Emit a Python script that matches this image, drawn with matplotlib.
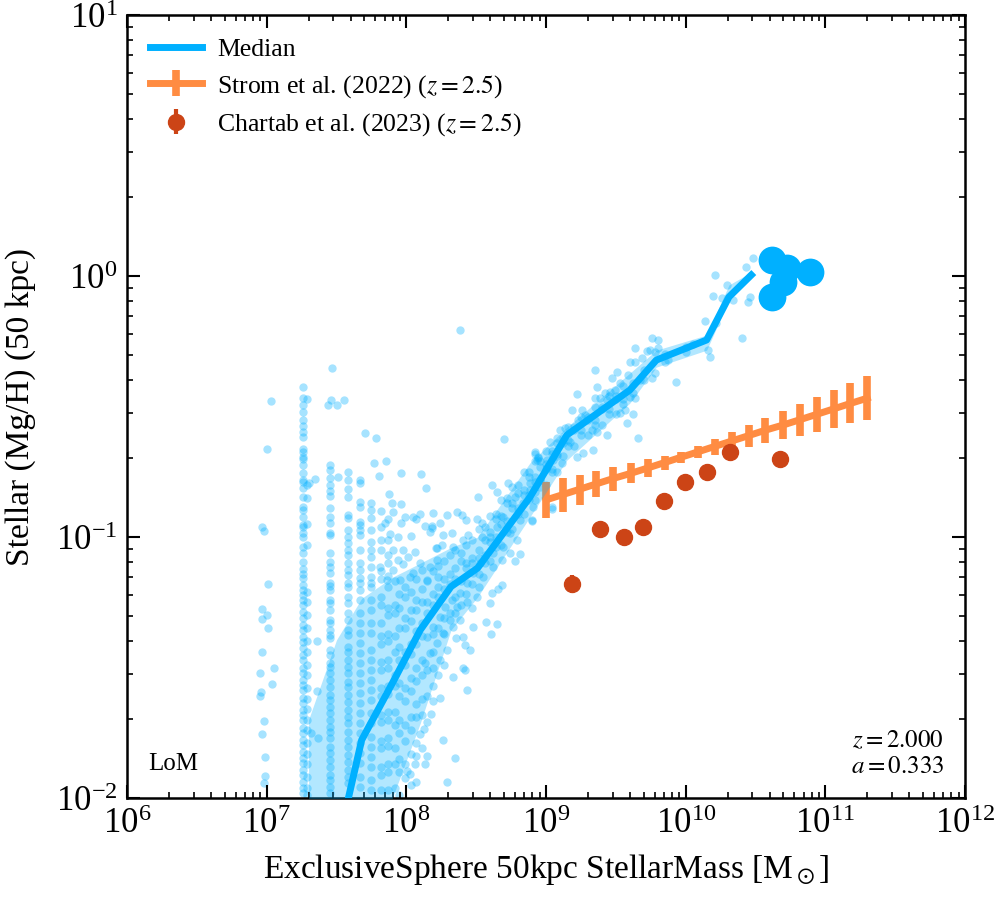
import numpy as np
import matplotlib
matplotlib.use('Agg')
import matplotlib.pyplot as plt

plt.rcParams['font.family'] = 'serif'
plt.rcParams['font.serif'] = ['Liberation Serif', 'STIXGeneral', 'DejaVu Serif']
plt.rcParams['mathtext.fontset'] = 'stix'

BLUE = '#00B0FF'
ORANGE = '#FF8C42'
RED = '#CC4416'

# ---------------- data (log10 values) ----------------
# binned median and 16-84 percentile band
bin_logmass = [7.30, 7.50, 7.68, 7.90, 8.10, 8.32, 8.51, 8.885, 9.15, 9.60, 9.79, 10.15, 10.31, 10.47]
median_logz = [-2.9, -2.2, -1.778, -1.56, -1.356, -1.19, -1.119, -0.847, -0.609, -0.437, -0.322, -0.245, -0.080, 0.004]
p84_logz = [-1.70, -1.394, -1.235, -1.154, -1.10, -1.04, -1.00, -0.716, -0.579, -0.372, -0.284, -0.226, -0.034, 0.015]
p16_logz = [-2.8, -2.5, -2.25, -2.0, -1.713, -1.356, -1.23, -0.923, -0.705, -0.487, -0.349, -0.284, -0.092, -0.004]

# most massive galaxies (shown individually)
massive_logmass = [10.617, 10.724, 10.889, 10.617, 10.696]
massive_logz = [0.061, 0.031, 0.015, -0.080, -0.023]

# Strom et al. (2022)
strom_logmass = [9.00, 9.12, 9.24, 9.36, 9.48, 9.61, 9.73, 9.85, 9.97, 10.09,
                 10.21, 10.33, 10.45, 10.57, 10.70, 10.82, 10.94, 11.06, 11.18, 11.30]
strom_z = [0.1387, 0.1454, 0.1524, 0.1598, 0.1675, 0.1756, 0.184, 0.193, 0.2024, 0.2122,
           0.2226, 0.2333, 0.2446, 0.2566, 0.2689, 0.2818, 0.2954, 0.3098, 0.325, 0.3404]
strom_low = [0.1183, 0.1247, 0.1327, 0.1423, 0.150, 0.161, 0.170, 0.1807, 0.1921, 0.201,
             0.206, 0.2153, 0.2213, 0.229, 0.2374, 0.2438, 0.2523, 0.2616, 0.2735, 0.2807]
strom_high = [0.1626, 0.1683, 0.1727, 0.1791, 0.1854, 0.1921, 0.199, 0.2043, 0.2118, 0.2234,
              0.2374, 0.2523, 0.2685, 0.2857, 0.304, 0.3235, 0.344, 0.3658, 0.389, 0.414]

# Chartab et al. (2023)
chartab_mass = [1.53e9, 2.43e9, 3.61e9, 4.94e9, 6.98e9, 9.87e9, 1.42e10, 2.07e10, 4.72e10]
chartab_z = [0.066, 0.107, 0.100, 0.109, 0.137, 0.163, 0.178, 0.212, 0.199]
chartab_err_lo = [0.005, 0.004, 0.004, 0.004, 0.005, 0.005, 0.005, 0.006, 0.006]
chartab_err_hi = [0.0055, 0.004, 0.004, 0.004, 0.005, 0.005, 0.005, 0.006, 0.006]

# individual galaxies: lowest-mass column (pairs)
col1_logmass = [7.03, 7.00, 6.97, 6.98, 7.01, 6.97, 7.00, 6.97, 7.01, 6.97, 7.05, 6.95, 7.04, 6.96,
                6.95, 6.98, 6.97, 6.99, 6.99, 6.98]
col1_logz = [-0.479, -0.663, -0.962, -0.977, -1.180, -1.276, -1.299, -1.314, -1.349, -1.441, -1.502,
             -1.521, -1.563, -1.594, -1.609, -1.705, -1.755, -1.843, -1.916, -1.943]

# discrete mass columns: (log mass, list of log metallicity)
col2a_logmass = 7.26
col2a_logz = [-0.425, -0.467, -0.494, -0.521, -0.552, -0.575, -0.598, -0.617, -0.663, -0.674, -0.693,
              -0.701, -0.724, -0.755, -0.782, -0.789, -0.812, -0.847, -0.885, -0.897, -0.923, -0.954,
              -0.962, -0.985, -1.0, -1.038, -1.061, -1.096, -1.123, -1.142, -1.157, -1.184, -1.203,
              -1.222, -1.241, -1.261, -1.287, -1.310, -1.337, -1.356, -1.383, -1.402, -1.425, -1.452,
              -1.471, -1.502, -1.521, -1.548, -1.567, -1.586, -1.617, -1.636, -1.663, -1.682, -1.701,
              -1.732, -1.751, -1.778, -1.797, -1.824, -1.847, -1.866, -1.893, -1.912, -1.939, -1.962,
              -1.981]
col2b_logmass = 7.29
col2b_logz = [-0.47, -0.80, -0.85, -0.95, -1.03, -1.21, -1.25, -1.30, -1.35, -1.40, -1.44, -1.49, -1.53,
              -1.58, -1.62, -1.66, -1.70, -1.74, -1.79, -1.83, -1.87, -1.92, -1.96, -1.99]
col3_logmass = 7.45
col3_logz = [-0.724, -0.743, -0.774, -0.801, -0.824, -0.843, -0.889, -0.923, -0.946, -0.985, -0.992,
             -1.061, -1.096, -1.115, -1.138, -1.176, -1.188, -1.203, -1.241, -1.253, -1.280, -1.318,
             -1.330, -1.356, -1.375, -1.387, -1.433, -1.452, -1.483, -1.498, -1.521, -1.548, -1.575,
             -1.605, -1.625, -1.651, -1.674, -1.701, -1.728, -1.747, -1.770, -1.805, -1.828, -1.854,
             -1.881, -1.912, -1.931, -1.958, -1.981]
col4_logmass = 7.58
col4_logz = [-0.751, -0.782, -0.816, -0.847, -0.916, -0.927, -0.973, -1.0, -1.023, -1.050, -1.069,
             -1.100, -1.126, -1.146, -1.176, -1.192, -1.230, -1.253, -1.291, -1.318, -1.356, -1.375,
             -1.421, -1.441, -1.471, -1.498, -1.521, -1.556, -1.575, -1.605, -1.632, -1.663, -1.690,
             -1.713, -1.747, -1.778, -1.805, -1.835, -1.862, -1.893, -1.920, -1.943]
col5_logmass = 7.67
col5_logz = [-0.782, -0.793, -0.866, -0.885, -0.943, -0.954, -0.973, -0.992, -1.050, -1.100, -1.126,
             -1.157, -1.176, -1.203, -1.241, -1.291, -1.330, -1.368, -1.406, -1.444, -1.483, -1.521,
             -1.559, -1.598, -1.636, -1.674, -1.713, -1.751, -1.789, -1.828, -1.866, -1.920, -1.958]
col6_logmass = 7.75
col6_logz = [-0.870, -0.897, -0.927, -0.973, -1.019, -1.050, -1.077, -1.115, -1.153, -1.176, -1.192,
             -1.241, -1.280, -1.330, -1.368, -1.433, -1.471, -1.510, -1.548, -1.586, -1.625, -1.674,
             -1.713, -1.766, -1.805, -1.843, -1.881, -1.931, -1.969]
col7_logmass = 7.82
col7_logz = [-0.90, -0.96, -1.01, -1.05, -1.13, -1.16, -1.23, -1.26, -1.33, -1.38, -1.41, -1.48, -1.51,
             -1.58, -1.61, -1.68, -1.71, -1.78, -1.81, -1.88, -1.91, -1.97]
col8_logmass = 7.87
col8_logz = [-0.93, -1.01, -1.07, -1.15, -1.19, -1.27, -1.30, -1.37, -1.40, -1.47, -1.50, -1.57, -1.60,
             -1.67, -1.70, -1.77, -1.80, -1.87, -1.90, -1.97]

# individually placed galaxies (pairs)
pts_logmass = [7.467, 7.439, 7.46, 7.503, 7.553, 7.346, 7.303, 7.51, 7.36, 7.36, 7.32, 7.37,
               7.704, 7.782, 7.768, 7.854, 7.804, 7.961, 8.104, 8.140, 7.875, 7.897, 7.904, 7.961,
               7.990, 8.047, 8.097, 8.190, 8.240, 8.291, 8.362, 8.398, 8.427, 8.505, 8.541, 8.613,
               8.649, 8.727, 8.699, 8.513, 7.847, 7.961, 8.069, 8.133, 8.183, 7.883, 7.940, 8.033,
               8.169, 8.212, 7.904, 7.976, 8.062, 8.011, 8.097, 7.940, 7.868, 7.811, 7.904, 7.976,
               8.047, 8.112, 8.169, 8.219, 7.861, 7.954, 8.026, 8.147, 8.226, 8.183, 8.262, 8.326,
               8.219, 8.255, 8.334, 8.405, 8.441, 8.541, 8.921, 8.942, 9.042, 8.899, 8.813, 8.777,
               8.684, 8.656, 8.613, 8.598, 8.570, 8.649, 8.606, 8.477, 8.455, 8.419, 8.405, 8.355,
               8.405, 8.334, 8.434, 8.419, 8.291, 8.348, 8.262, 8.240, 8.176, 8.126, 8.133, 8.062,
               8.026, 7.990, 8.004, 8.097, 8.384,
               10.209, 10.195, 10.138, 10.402, 10.173, 10.159, 9.930, 10.481, 10.431, 10.445, 10.460,
               10.295, 10.259, 10.338, 9.758, 9.801, 9.801, 9.744, 9.722, 9.636, 9.601, 9.636, 9.686,
               9.779, 9.873, 9.758, 9.779, 9.672, 9.586, 9.508, 9.472, 9.529, 9.350, 9.364, 9.422,
               9.457, 9.493, 9.221, 9.350, 9.386, 9.436, 9.601, 9.636, 9.565, 9.529, 9.622, 9.658,
               9.579, 9.257, 9.278, 9.185, 9.228, 9.135, 9.100, 9.329, 9.364, 9.436, 9.336, 9.264,
               9.221, 9.171, 9.028, 9.078, 9.006, 8.942, 8.935, 8.921, 9.114, 9.042, 8.906, 8.899,
               8.885,
               8.885, 8.777, 8.692, 8.649, 8.598, 8.742, 8.813, 8.835, 8.921, 8.956, 9.006, 9.049,
               8.792, 8.692, 8.620, 8.527, 8.477, 8.434, 8.548, 8.620, 8.684, 8.742, 8.384, 8.326,
               8.276, 8.362, 8.434, 8.505, 8.240, 8.312, 8.384, 8.190, 8.262, 8.334, 8.147, 8.219,
               8.291, 8.169, 8.240, 8.133, 8.190]
pts_logz = [-0.352, -0.494, -0.475, -0.494, -0.475, -0.778, -0.793, -0.770, -1.40, -1.59, -1.75, -1.77,
            -0.602, -0.621, -0.716, -0.709, -0.766, -0.755, -0.759, -0.812, -0.835, -0.870, -0.904, -0.874,
            -0.923, -0.923, -0.912, -0.908, -0.946, -0.916, -0.904, -0.916, -0.935, -0.931, -0.946, -0.801,
            -0.828, -0.793, -0.624, -0.847, -0.946, -0.946, -0.931, -0.958, -0.958, -0.989, -1.0, -0.996,
            -0.981, -1.042, -1.050, -1.050, -1.057, -1.077, -1.100, -1.088, -1.100, -1.115, -1.126, -1.103,
            -1.138, -1.126, -1.115, -1.088, -1.165, -1.165, -1.153, -1.165, -1.153, -0.966, -0.992, -0.985,
            -1.042, -1.031, -1.038, -1.011, -0.992, -1.0, -0.682, -0.697, -0.893, -0.939, -1.065, -1.092,
            -1.184, -1.199, -1.215, -1.253, -1.326, -1.333, -1.372, -1.345, -1.433, -1.414, -1.383, -1.387,
            -1.502, -1.536, -1.586, -1.510, -1.939, -1.847, -1.778, -1.617, -1.678, -1.736, -1.870, -1.870,
            -1.908, -1.923, -1.897, -1.755, -0.207,
            0.004, -0.077, -0.172, -0.238, -0.310, -0.284, -0.406, 0.069, 0.034, -0.100, -0.080,
            -0.034, -0.084, -0.092, -0.238, -0.245, -0.276, -0.284, -0.287, -0.276, -0.330, -0.330, -0.314,
            -0.291, -0.322, -0.391, -0.372, -0.398, -0.379, -0.368, -0.391, -0.410, -0.360, -0.425, -0.448,
            -0.444, -0.437, -0.452, -0.467, -0.467, -0.475, -0.464, -0.467, -0.513, -0.525, -0.529, -0.621,
            -0.563, -0.513, -0.533, -0.513, -0.552, -0.582, -0.590, -0.590, -0.598, -0.609, -0.667, -0.678,
            -0.693, -0.636, -0.636, -0.640, -0.705, -0.693, -0.705, -0.674, -0.716, -0.885, -0.885, -0.935,
            -0.820,
            -0.793, -0.847, -0.923, -0.962, -1.0, -0.985, -0.935, -0.870, -0.828, -0.782, -0.732, -0.705,
            -1.011, -1.038, -1.061, -1.100, -1.138, -1.176, -1.153, -1.115, -1.088, -1.061, -1.215, -1.241,
            -1.268, -1.268, -1.249, -1.230, -1.307, -1.318, -1.318, -1.345, -1.368, -1.345, -1.383, -1.406,
            -1.433, -1.444, -1.471, -1.483, -1.502]

# dense rows along the relation: (log mass, log metallicities)
rows = [
    (7.92, [-1.17, -1.26, -1.29, -1.38, -1.44, -1.53, -1.57, -1.67, -1.72, -1.81, -1.87, -1.96]),
    (7.95, [-1.22, -1.27, -1.35, -1.42, -1.47, -1.56, -1.61, -1.70, -1.75, -1.85, -1.90, -1.99]),
    (7.99, [-1.19, -1.23, -1.31, -1.35, -1.44, -1.49, -1.58, -1.63, -1.72, -1.78, -1.87]),
    (8.03, [-1.21, -1.28, -1.32, -1.41, -1.45, -1.54, -1.59, -1.69, -1.74, -1.83, -1.95]),
    (8.07, [-1.16, -1.24, -1.28, -1.36, -1.41, -1.50, -1.55, -1.64, -1.69, -1.79, -1.84, -1.94]),
    (8.11, [-1.20, -1.25, -1.33, -1.38, -1.47, -1.53, -1.62, -1.68, -1.81]),
    (8.15, [-1.17, -1.25, -1.29, -1.51, -1.61, -1.71, -1.84]),
    (8.19, [-1.13, -1.22, -1.26, -1.37, -1.44, -1.57, -1.63]),
    (8.23, [-1.11, -1.19, -1.23, -1.35, -1.53]),
    (8.27, [-1.09, -1.16, -1.20, -1.31, -1.37, -1.49]),
    (8.31, [-1.07, -1.14, -1.18, -1.29]),
    (8.35, [-1.05, -1.12, -1.16, -1.23, -1.29]),
    (8.39, [-1.06, -1.09, -1.17, -1.26]),
    (8.43, [-1.03, -1.10, -1.12, -1.22]),
    (8.47, [-1.01, -1.08, -1.10, -1.18, -1.27]),
    (8.52, [-0.97, -1.05, -1.08, -1.14, -1.19]),
    (8.56, [-0.96, -1.01, -1.07, -1.10]),
    (8.60, [-0.92, -0.98, -1.02, -1.09]),
    (8.64, [-0.91, -0.93, -1.00, -1.04]),
    (8.68, [-0.86, -0.92, -0.95, -1.03]),
    (8.72, [-0.85, -0.87, -0.94, -0.98]),
    (8.76, [-0.81, -0.87, -0.89, -0.97]),
    (8.80, [-0.80, -0.83, -0.89, -0.91]),
    (8.84, [-0.75, -0.82, -0.84, -0.91]),
    (8.88, [-0.75, -0.77, -0.84, -0.86]),
    (8.92, [-0.71, -0.77, -0.79, -0.86]),
    (8.96, [-0.71, -0.73, -0.78, -0.81]),
    (9.00, [-0.67, -0.72, -0.74, -0.80]),
    (9.04, [-0.67, -0.68, -0.74, -0.75]),
    (9.08, [-0.62, -0.68, -0.69, -0.75]),
    (9.12, [-0.62, -0.64, -0.69]),
    (9.16, [-0.58, -0.63, -0.65]),
    (9.20, [-0.58, -0.59, -0.65]),
    (9.25, [-0.54, -0.59, -0.61]),
    (9.30, [-0.54, -0.55, -0.61]),
    (9.35, [-0.50, -0.55, -0.57]),
    (9.40, [-0.50, -0.51, -0.57]),
    (9.45, [-0.46, -0.51, -0.53]),
    (9.50, [-0.46, -0.47, -0.53]),
    (9.55, [-0.42, -0.47, -0.49]),
    (9.62, [-0.41, -0.45]),
    (9.70, [-0.36, -0.40]),
    (9.85, [-0.30, -0.33]),
    (10.00, [-0.27, -0.29]),
    (10.05, [-0.26]),
    (10.22, [-0.18]),
]

# ---------------- assemble scatter ----------------
sx = list(col1_logmass) + list(pts_logmass)
sy = list(col1_logz) + list(pts_logz)
for cx, cy in [(col2a_logmass, col2a_logz), (col2b_logmass, col2b_logz), (col3_logmass, col3_logz),
               (col4_logmass, col4_logz), (col5_logmass, col5_logz), (col6_logmass, col6_logz),
               (col7_logmass, col7_logz), (col8_logmass, col8_logz)] + rows:
    sx += [cx] * len(cy)
    sy += list(cy)
sx = 10 ** np.array(sx)
sy = 10 ** np.array(sy)

# ---------------- plot ----------------
fig = plt.figure(figsize=(9.96, 9.0), dpi=100)
ax = fig.add_axes([0.1275, 0.1133, 0.8414, 0.87])

ax.scatter(sx, sy, s=36, color=BLUE, alpha=0.35, linewidths=0, zorder=1)

sm = 10 ** np.array(strom_logmass)
sz = np.array(strom_z)
yerr = [sz - np.array(strom_low), np.array(strom_high) - sz]
ax.errorbar(sm, sz, yerr=yerr, color=ORANGE, lw=5, elinewidth=5.5, capsize=0,
            label=r'Strom et al. (2022) ($z = 2.5$)', zorder=2)

ax.errorbar(chartab_mass, chartab_z, yerr=[chartab_err_lo, chartab_err_hi], fmt='o', color=RED,
            ms=11.5, elinewidth=3, capsize=0, label=r'Chartab et al. (2023) ($z = 2.5$)', zorder=2)

bm = 10 ** np.array(bin_logmass)
ax.fill_between(bm, 10 ** np.array(p16_logz), 10 ** np.array(p84_logz), color=BLUE, alpha=0.3,
                linewidth=0, zorder=3)
ax.plot(bm, 10 ** np.array(median_logz), color=BLUE, lw=5, label='Median', zorder=4)
ax.plot(10 ** np.array(massive_logmass), 10 ** np.array(massive_logz), 'o', color=BLUE, ms=20,
        mew=0, zorder=5)

ax.set_xscale('log')
ax.set_yscale('log')
ax.set_xlim(1e6, 1e12)
ax.set_ylim(1e-2, 1e1)

ax.set_xlabel(r'ExclusiveSphere 50kpc StellarMass [M$_\odot$]', fontsize=24, labelpad=8)
ax.set_ylabel('Stellar (Mg/H) (50 kpc)', fontsize=24, labelpad=14)

ax.tick_params(which='both', direction='in', top=True, right=True, labelsize=25)
ax.tick_params(which='major', length=9.5, width=1.5, pad=7)
ax.tick_params(which='minor', length=4.5, width=1.2)
for sp in ax.spines.values():
    sp.set_linewidth(1.8)

handles, labels = ax.get_legend_handles_labels()
order = [labels.index('Median'), labels.index(r'Strom et al. (2022) ($z = 2.5$)'),
         labels.index(r'Chartab et al. (2023) ($z = 2.5$)')]
ax.legend([handles[i] for i in order], [labels[i] for i in order], loc='upper left',
          frameon=False, fontsize=18.5, handlelength=2.0, handletextpad=0.6,
          borderaxespad=0.5, labelspacing=0.45)

ax.text(0.025, 0.03, 'LoM', transform=ax.transAxes, fontsize=18, ha='left', va='bottom')
ax.text(0.975, 0.025, '$z = 2.000$\n$a = 0.333$', transform=ax.transAxes, fontsize=18,
        ha='right', va='bottom', linespacing=1.25)

fig.savefig('out.png', dpi=100)
